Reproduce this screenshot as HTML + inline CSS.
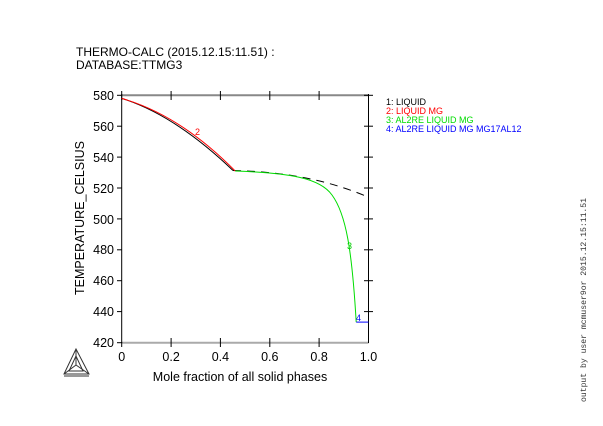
<!DOCTYPE html>
<html><head><meta charset="utf-8"><style>
html,body{margin:0;padding:0;background:#fff;}
svg{display:block;font-family:"Liberation Sans",sans-serif;}
</style></head><body>
<svg width="603" height="426" viewBox="0 0 603 426" xmlns="http://www.w3.org/2000/svg">
<rect width="603" height="426" fill="#fff"/>
<text x="76" y="56" font-size="12">THERMO-CALC (2015.12.15:11.51) :</text>
<text x="76" y="69" font-size="12">DATABASE:TTMG3</text>
<line x1="121.7" y1="95.3" x2="368.5" y2="95.3" stroke="#888" stroke-width="2"/>
<line x1="121.7" y1="342.7" x2="368.5" y2="342.7" stroke="#aaa" stroke-width="2"/>
<line x1="121.7" y1="94" x2="121.7" y2="343" stroke="#000" stroke-width="1"/>
<line x1="368.5" y1="94" x2="368.5" y2="343" stroke="#000" stroke-width="1"/>
<g stroke="#000" stroke-width="1">
<line x1="117" y1="95.3" x2="121.7" y2="95.3"/><line x1="117" y1="126.2" x2="121.7" y2="126.2"/>
<line x1="117" y1="157.1" x2="121.7" y2="157.1"/><line x1="117" y1="188" x2="121.7" y2="188"/>
<line x1="117" y1="218.9" x2="121.7" y2="218.9"/><line x1="117" y1="249.8" x2="121.7" y2="249.8"/>
<line x1="117" y1="280.7" x2="121.7" y2="280.7"/><line x1="117" y1="311.6" x2="121.7" y2="311.6"/>
<line x1="117" y1="342.7" x2="121.7" y2="342.7"/>
<line x1="364" y1="126.2" x2="373" y2="126.2"/><line x1="364" y1="157.1" x2="373" y2="157.1"/>
<line x1="364" y1="188" x2="373" y2="188"/><line x1="364" y1="218.9" x2="373" y2="218.9"/>
<line x1="364" y1="249.8" x2="373" y2="249.8"/><line x1="364" y1="280.7" x2="373" y2="280.7"/>
<line x1="364" y1="311.6" x2="373" y2="311.6"/><line x1="364" y1="95.3" x2="373" y2="95.3"/>
<line x1="121.7" y1="91" x2="121.7" y2="100"/><line x1="171.1" y1="91" x2="171.1" y2="100"/>
<line x1="220.4" y1="91" x2="220.4" y2="100"/><line x1="269.8" y1="91" x2="269.8" y2="100"/>
<line x1="319.1" y1="91" x2="319.1" y2="100"/>
<line x1="171.1" y1="338" x2="171.1" y2="347"/><line x1="220.4" y1="338" x2="220.4" y2="347"/>
<line x1="269.8" y1="338" x2="269.8" y2="347"/><line x1="319.1" y1="338" x2="319.1" y2="347"/>
<line x1="121.7" y1="342" x2="121.7" y2="347"/>
</g>
<g font-size="12.5" text-anchor="end">
<text x="114" y="100">580</text><text x="114" y="131">560</text><text x="114" y="162">540</text>
<text x="114" y="193">520</text><text x="114" y="224">500</text><text x="114" y="254">480</text>
<text x="114" y="285">460</text><text x="114" y="316">440</text><text x="114" y="347">420</text>
</g>
<g font-size="12.5" text-anchor="middle">
<text x="121.7" y="361">0</text><text x="171.1" y="361">0.2</text><text x="220.4" y="361">0.4</text>
<text x="269.8" y="361">0.6</text><text x="319.1" y="361">0.8</text><text x="368.5" y="361">1.0</text>
</g>
<text x="240" y="381" font-size="12.5" text-anchor="middle">Mole fraction of all solid phases</text>
<text transform="translate(84,218) rotate(-90)" font-size="12.5" text-anchor="middle">TEMPERATURE_CELSIUS</text>
<path fill="none" stroke="#000" stroke-width="1" d="M121.7,98.4 Q175,115 233,170.5"/>
<path fill="none" stroke="#000" stroke-width="1" stroke-dasharray="8,6" d="M233,170.5 Q310,172 368.5,197.2"/>
<path fill="none" stroke="#f00" stroke-width="1" d="M121.7,98.4 Q180,115 235.2,171"/>
<path fill="none" stroke="#0d0" stroke-width="1" d="M235.2,171 C290,173 320,178 332,195 C346,214 352,250 356.2,322.1"/>
<line x1="356.2" y1="322.1" x2="368.5" y2="322.1" stroke="#00f" stroke-width="1"/>
<text x="195" y="135" font-size="9" fill="#f00">2</text>
<text x="347" y="249" font-size="9" fill="#0c0">3</text>
<text x="356" y="321" font-size="9" fill="#00f">4</text>
<g font-size="9">
<text x="386" y="105" fill="#000">1: LIQUID</text>
<text x="386" y="114" fill="#f00">2: LIQUID MG</text>
<text x="386" y="123" fill="#0d0">3: AL2RE LIQUID MG</text>
<text x="386" y="132" fill="#00f">4: AL2RE LIQUID MG MG17AL12</text>
</g>
<text transform="translate(586,402) rotate(-90)" font-size="8.1" font-family="Liberation Mono, monospace" fill="#333">output by user mcmuser9or 2015.12.15:11.51</text>
<g fill="none" stroke="#333" stroke-width="1">
<polygon points="76,349 64,374 89,374"/>
<polygon points="76,356 69,371 83,371"/>
<line x1="76" y1="349" x2="76" y2="365"/><line x1="64" y1="374" x2="76" y2="365"/><line x1="89" y1="374" x2="76" y2="365"/>
<line x1="64" y1="376" x2="89" y2="376"/>
</g>
</svg>
</body></html>
